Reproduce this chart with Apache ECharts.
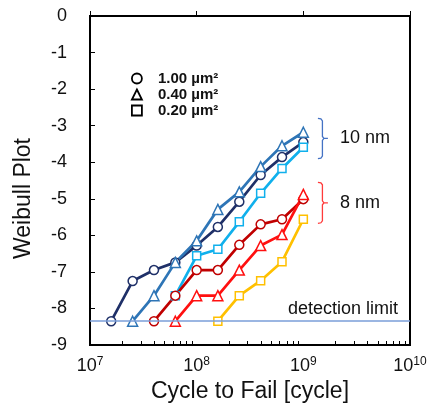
<!DOCTYPE html>
<html><head><meta charset="utf-8">
<script src="https://cdn.jsdelivr.net/npm/echarts@6/dist/echarts.min.js"></script>
<style>html,body{margin:0;padding:0;background:#fff}#c{width:428px;height:403px}</style>
</head><body><div id="c"></div>
<script>
// ---- data ----
const cycles = [1.58e7, 2.51e7, 3.98e7, 6.31e7, 1.0e8, 1.58e8, 2.51e8, 3.98e8, 6.31e8, 1.0e9];
const detectionLimit = -8.35;
const s10nm_100 = [-8.35, -7.25, -6.95, -6.74, -6.28, -5.77, -5.08, -4.35, -3.86, -3.45];
const s10nm_040 = [null, -8.35, -7.65, -6.74, -6.15, -5.29, -4.81, -4.12, -3.55, -3.18];
const s10nm_020 = [null, null, null, -7.65, -6.56, -6.38, -5.63, -4.85, -4.17, -3.59];
const s8nm_100 = [null, null, -8.35, -7.65, -6.95, -6.95, -6.26, -5.70, -5.56, -5.01];
const s8nm_040 = [null, null, null, -8.35, -7.65, -7.65, -6.95, -6.28, -5.98, -4.88];
const s8nm_020 = [null, null, null, null, null, -8.35, -7.65, -7.24, -6.72, -5.56];
const legendNames = ['1.00 µm²', '0.40 µm²', '0.20 µm²'];
const groupLabels = ['10 nm', '8 nm'];
const groupRanges = [[-2.8, -3.9], [-4.55, -5.67]];
const xTickExponents = [7, 8, 9, 10];
const yTicks = [0, -1, -2, -3, -4, -5, -6, -7, -8, -9];

// ---- chart ----
const FONT = 'Liberation Sans, Arial, sans-serif';
const chart = echarts.init(document.getElementById('c'), null, {renderer: 'canvas'});
function pairs(vals) { return cycles.map((c, i) => vals[i] == null ? null : [c, vals[i]]).filter(d => d); }
function mkSeries(name, vals, color, symbol, size) {
  return {
    type: 'line', name: name, data: pairs(vals), symbol: symbol, symbolSize: size,
    lineStyle: {color: color, width: 2.7},
    itemStyle: {color: '#fff', borderColor: color, borderWidth: 1.5},
    emphasis: {disabled: true}, animation: false, z: 3
  };
}
const minorTicks = [];
for (let e = 7; e < 10; e++) for (let m = 2; m <= 9; m++) minorTicks.push(m * Math.pow(10, e));

const series = [
  mkSeries('s10_100', s10nm_100, '#1F3068', 'circle', 9),
  mkSeries('s10_040', s10nm_040, '#2E75B6', 'triangle', 10),
  mkSeries('s10_020', s10nm_020, '#10B0EC', 'rect', 8),
  mkSeries('s8_100', s8nm_100, '#C00000', 'circle', 9),
  mkSeries('s8_040', s8nm_040, '#FF1010', 'triangle', 10),
  mkSeries('s8_020', s8nm_020, '#FFC000', 'rect', 8)
];
series[0].markLine = {
  silent: true, symbol: 'none', animation: false,
  lineStyle: {color: '#7A9ED8', width: 1.5, type: 'solid'},
  label: {show: true, position: 'insideEndTop', formatter: 'detection limit', fontSize: 18,
          fontFamily: FONT, color: '#111', distance: [12, 3]},
  data: [{yAxis: detectionLimit}]
};
const icons = ['circle', 'triangle', 'rect'];
legendNames.forEach((n, i) => series.push({type: 'line', name: n, data: [], symbol: icons[i],
  itemStyle: {color: '#fff', borderColor: '#000', borderWidth: 1.8}, lineStyle: {width: 0}}));

// brackets as a custom series
series.push({
  type: 'custom', silent: true, animation: false, z: 4,
  data: groupRanges.map((r, i) => [r[0], r[1], i]),
  renderItem: function (params, api) {
    const top = api.value(0), bot = api.value(1), idx = api.value(2);
    const color = idx === 0 ? '#4472C4' : '#FF3B3B';
    const pT = api.coord([1.37e9, top]);
    const pB = api.coord([1.37e9, bot]);
    const x0 = pT[0], x1 = x0 + 4.5, x2 = x0 + 10;
    const yT = pT[1], yB = pB[1], yM = (yT + yB) / 2;
    return {type: 'group', children: [
      {type: 'polyline', shape: {points: [[x0, yT], [x1 - 1.5, yT + 0.5], [x1, yT + 2.5], [x1, yM - 2], [x1 + 1.5, yM], [x2, yM]]},
       style: {stroke: color, lineWidth: 1.3, fill: null}},
      {type: 'polyline', shape: {points: [[x1 + 1.5, yM], [x1, yM + 2], [x1, yB - 2.5], [x1 - 1.5, yB - 0.5], [x0, yB]]},
       style: {stroke: color, lineWidth: 1.3, fill: null}},
      {type: 'text', x: x2 + 12, y: yM, style: {text: groupLabels[idx], fontSize: 18, fontFamily: FONT,
        fill: '#111', verticalAlign: 'middle', align: 'left'}}
    ]};
  }
});

chart.setOption({
  animation: false,
  backgroundColor: '#fff',
  grid: {left: 90, top: 16, width: 320, height: 329, show: true, borderColor: '#000', borderWidth: 2,
         outerBoundsMode: 'none', containLabel: false},
  legend: {
    orient: 'vertical', left: 126, top: 66, itemWidth: 10, itemHeight: 10, itemGap: 1,
    selectedMode: false,
    data: legendNames.map((n, i) => ({name: n, icon: icons[i],
      itemStyle: {color: '#fff', borderColor: '#000', borderWidth: 1.8}})),
    textStyle: {fontSize: 15, fontWeight: 'bold', fontFamily: FONT, color: '#111', padding: [0, 0, 0, 11]}
  },
  xAxis: [{
    type: 'log', logBase: 10, min: 1e7, max: 1e10, position: 'bottom',
    name: 'Cycle to Fail [cycle]', nameLocation: 'middle', nameGap: 34,
    nameTextStyle: {fontSize: 23, fontFamily: FONT, color: '#111'},
    axisLine: {show: true, lineStyle: {color: '#000', width: 2}},
    axisTick: {show: true, inside: true, length: 5, lineStyle: {color: '#000', width: 1}},
    splitLine: {show: false},
    axisLabel: {
      margin: 11, color: '#111', fontSize: 18, fontFamily: FONT,
      customValues: xTickExponents.map(e => Math.pow(10, e)),
      formatter: function (v) { return '10{s|' + Math.round(Math.log10(v)) + '}'; },
      rich: {s: {fontSize: 12, fontFamily: FONT, color: '#111', padding: [0, 0, 9, 0]}}
    }
  }, {
    type: 'log', logBase: 10, min: 1e7, max: 1e10, position: 'bottom',
    axisLine: {show: false}, axisLabel: {show: false}, splitLine: {show: false},
    axisTick: {show: true, inside: true, length: 4, customValues: minorTicks, lineStyle: {color: '#000', width: 1}}
  }],
  yAxis: {
    type: 'value', min: -9, max: 0, interval: 1,
    name: 'Weibull Plot', nameLocation: 'middle', nameGap: 55,
    nameTextStyle: {fontSize: 23, fontFamily: FONT, color: '#111', padding: [0, 36, 0, 0]},
    axisLine: {show: true, lineStyle: {color: '#000', width: 2}},
    axisTick: {show: true, inside: true, length: 5, lineStyle: {color: '#000', width: 1}},
    splitLine: {show: false},
    axisLabel: {margin: 23, color: '#111', fontSize: 18, fontFamily: FONT,
      customValues: yTicks}
  },
  series: series
});
</script></body></html>
